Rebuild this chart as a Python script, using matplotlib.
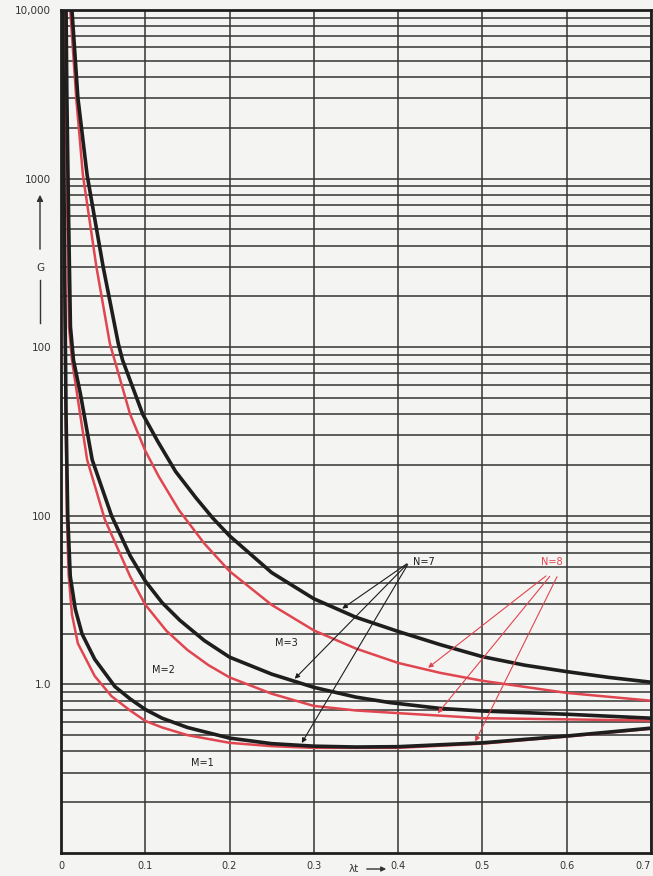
import numpy as np
import matplotlib
matplotlib.use("Agg")
import matplotlib.pyplot as plt

# values (x = lambda*t, G on log scale)
m1_n7_x = [0.002, 0.003, 0.004, 0.005, 0.006, 0.008, 0.011, 0.017, 0.025, 0.04, 0.064, 0.082, 0.1, 0.12, 0.15, 0.2, 0.25, 0.3, 0.35, 0.4, 0.5, 0.6, 0.7]
m1_n7_g = [10000, 2000, 500, 132, 40, 10, 4.37, 2.79, 1.99, 1.41, 0.97, 0.82, 0.71, 0.63, 0.555, 0.48, 0.445, 0.43, 0.425, 0.427, 0.45, 0.494, 0.55]

m1_n8_x = [0.0015, 0.0025, 0.0035, 0.0045, 0.0055, 0.007, 0.009, 0.013, 0.02, 0.04, 0.06, 0.082, 0.1, 0.12, 0.15, 0.2, 0.25, 0.3, 0.4, 0.5, 0.6, 0.7]
m1_n8_g = [10000, 2000, 500, 132, 40, 10, 4.5, 2.6, 1.75, 1.12, 0.85, 0.70, 0.607, 0.555, 0.50, 0.45, 0.43, 0.42, 0.42, 0.445, 0.49, 0.545]

m2_n7_x = [0.006, 0.007, 0.009, 0.0112, 0.0148, 0.023, 0.037, 0.06, 0.082, 0.1, 0.12, 0.141, 0.17, 0.2, 0.25, 0.3, 0.35, 0.39, 0.45, 0.5, 0.6, 0.7]
m2_n7_g = [10000, 3000, 600, 132, 84, 53, 21.5, 10, 5.8, 4.1, 3.05, 2.4, 1.82, 1.45, 1.15, 0.96, 0.84, 0.78, 0.72, 0.695, 0.665, 0.63]

m2_n8_x = [0.0045, 0.0055, 0.0075, 0.0095, 0.013, 0.019, 0.031, 0.052, 0.082, 0.1, 0.125, 0.15, 0.175, 0.2, 0.25, 0.3, 0.35, 0.4, 0.5, 0.6, 0.7]
m2_n8_g = [10000, 3000, 600, 132, 84, 53, 21.5, 9.5, 4.37, 2.97, 2.08, 1.6, 1.3, 1.1, 0.88, 0.745, 0.70, 0.675, 0.63, 0.62, 0.61]

m3_n7_x = [0.013, 0.02, 0.031, 0.05, 0.068, 0.073, 0.097, 0.115, 0.136, 0.16, 0.18, 0.2, 0.25, 0.3, 0.35, 0.4, 0.45, 0.5, 0.55, 0.6, 0.65, 0.7]
m3_n7_g = [10000, 3030, 1050, 300, 105, 84, 40, 27.5, 18.3, 12.8, 9.7, 7.6, 4.6, 3.22, 2.5, 2.06, 1.72, 1.46, 1.30, 1.19, 1.10, 1.03]

m3_n8_x = [0.011, 0.018, 0.026, 0.042, 0.058, 0.082, 0.1, 0.116, 0.14, 0.17, 0.2, 0.25, 0.3, 0.35, 0.4, 0.45, 0.5, 0.6, 0.7]
m3_n8_g = [10000, 3030, 1050, 300, 105, 40, 24.3, 17.1, 10.8, 6.85, 4.69, 2.96, 2.09, 1.63, 1.34, 1.17, 1.05, 0.89, 0.80]

x_ticks = [0, 0.1, 0.2, 0.3, 0.4, 0.5, 0.6, 0.7]
x_labels = ["0", "0.1", "0.2", "0.3", "0.4", "0.5", "0.6", "0.7"]
y_ticks = [10000, 1000, 100, 10, 1.0]
y_labels = ["10,000", "1000", "100", "100", "1.0"]

paper = "#f4f4f2"
ink = "#1e1e1e"
red = "#e0464f"

fig = plt.figure(figsize=(6.53, 8.76), dpi=100, facecolor=paper)
ax = fig.add_axes([0.0934, 0.0263, 0.9035, 0.9623])
ax.set_facecolor(paper)
ax.set_yscale("log")
ax.set_xlim(0, 0.7)
ax.set_ylim(0.1, 10000)

# grid: every 0.1 in x, every log minor line in y
ax.set_xticks(x_ticks)
ax.set_xticklabels(x_labels)
ax.get_xticklabels()[-1].set_ha("right")
ax.set_yticks(y_ticks)
ax.set_yticklabels(y_labels)
ax.yaxis.set_minor_locator(matplotlib.ticker.LogLocator(base=10, subs=np.arange(2, 10)))
ax.yaxis.set_minor_formatter(matplotlib.ticker.NullFormatter())
ax.grid(True, which="both", axis="y", color="#333333", lw=1.1)
ax.grid(True, which="major", axis="x", color="#333333", lw=1.1)
ax.tick_params(which="both", length=0, labelsize=7, colors="#333333")
ax.tick_params(axis="x", pad=6)
ax.tick_params(axis="y", pad=7, labelsize=7.5)
for s in ax.spines.values():
    s.set_linewidth(2)
    s.set_color(ink)

# curves: red N=8 under black N=7
ax.plot(m1_n8_x, m1_n8_g, color=red, lw=1.8)
ax.plot(m2_n8_x, m2_n8_g, color=red, lw=1.8)
ax.plot(m3_n8_x, m3_n8_g, color=red, lw=1.8)
ax.plot(m1_n7_x, m1_n7_g, color=ink, lw=2.6)
ax.plot(m2_n7_x, m2_n7_g, color=ink, lw=2.6)
ax.plot(m3_n7_x, m3_n7_g, color=ink, lw=2.6)

def on_curve(x, xs, gs):
    return 10 ** np.interp(x, xs, np.log10(gs))

# N=7 callouts
ax.text(0.418, 5.3, "N=7", fontsize=7, color=ink, va="center", ha="left")
for xt, xs, gs in [(0.331, m3_n7_x, m3_n7_g), (0.275, m2_n7_x, m2_n7_g), (0.284, m1_n7_x, m1_n7_g)]:
    ax.annotate("", xy=(xt, on_curve(xt, xs, gs)), xytext=(0.413, 5.3),
                arrowprops=dict(arrowstyle="-|>", color=ink, lw=0.8, mutation_scale=7))

# N=8 callouts
ax.text(0.582, 5.3, "N=8", fontsize=7, color=red, va="center", ha="center")
for xt, xs0, xs, gs in [(0.433, 0.578, m3_n8_x, m3_n8_g), (0.445, 0.582, m2_n8_x, m2_n8_g), (0.49, 0.590, m1_n8_x, m1_n8_g)]:
    ax.annotate("", xy=(xt, on_curve(xt, xs, gs)), xytext=(xs0, 4.5),
                arrowprops=dict(arrowstyle="-|>", color=red, lw=0.8, mutation_scale=7))

ax.text(0.267, 1.75, "M=3", fontsize=7, color=ink, ha="center", va="center")
ax.text(0.121, 1.22, "M=2", fontsize=7, color=ink, ha="center", va="center")
ax.text(0.168, 0.34, "M=1", fontsize=7, color=ink, ha="center", va="center")

# axis titles drawn the way the original lettering does it
fig.text(40 / 653, 1 - 268 / 876, "G", fontsize=7.5, color="#333333", ha="center", va="center")
fig.add_artist(matplotlib.patches.FancyArrowPatch((40 / 653, 1 - 252 / 876), (40 / 653, 1 - 192 / 876),
               transform=fig.transFigure, arrowstyle="-|>", mutation_scale=9, color="#333333", lw=1))
fig.add_artist(matplotlib.lines.Line2D([40 / 653, 40 / 653], [1 - 280 / 876, 1 - 323 / 876],
               transform=fig.transFigure, color="#333333", lw=1))
fig.text(354 / 653, 1 - 869 / 876, "λt", fontsize=7.5, color="#333333", ha="center", va="center")
fig.add_artist(matplotlib.patches.FancyArrowPatch((364 / 653, 1 - 869 / 876), (389 / 653, 1 - 869 / 876),
               transform=fig.transFigure, arrowstyle="-|>", mutation_scale=7, color="#333333", lw=1))

fig.savefig("out.png", dpi=100, facecolor=paper)
